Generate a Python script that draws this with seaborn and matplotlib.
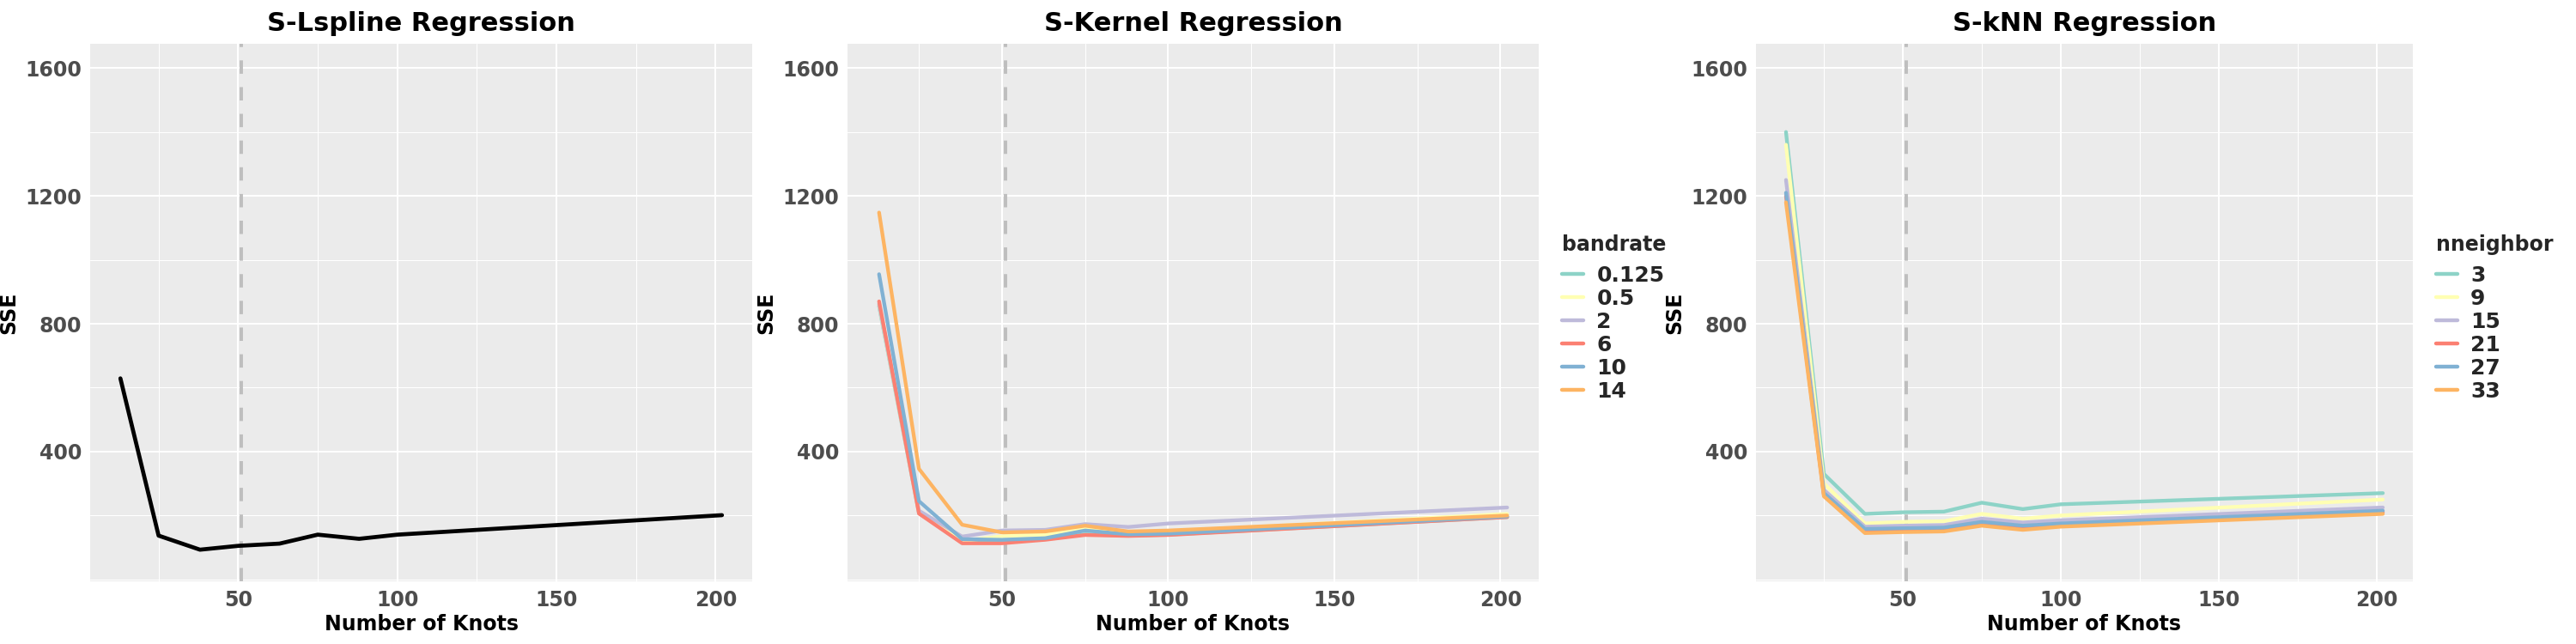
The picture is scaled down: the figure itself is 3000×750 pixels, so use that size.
import pandas as pd
import matplotlib
matplotlib.use('Agg')
import matplotlib.pyplot as plt
from matplotlib.ticker import MultipleLocator
import seaborn as sns

# knots used on the x axis
knots = [13, 25, 38, 50, 63, 75, 88, 100, 202]

# S-Lspline
lspline_sse = [629, 137, 93, 105, 112, 140, 127, 140, 201]

# S-Kernel, one series per bandrate
bandrate_levels = ['0.125', '0.5', '2', '6', '10', '14']
kern_0125 = [855, 208, 115, 116, 126, 141, 137, 140, 195]
kern_05 = [860, 212, 120, 135, 140, 160, 148, 150, 205]
kern_2 = [862, 215, 134, 153, 155, 173, 164, 175, 225]
kern_6 = [870, 206, 113, 113, 124, 139, 136, 139, 195]
kern_10 = [955, 245, 126, 124, 129, 153, 141, 143, 197]
kern_14 = [1148, 346, 171, 147, 150, 168, 150, 153, 200]

# S-kNN, one series per nneighbor
nneighbor_levels = ['3', '9', '15', '21', '27', '33']
knn_3 = [1400, 330, 205, 210, 212, 240, 220, 235, 270]
knn_9 = [1360, 300, 175, 180, 182, 205, 190, 200, 250]
knn_15 = [1250, 280, 165, 168, 170, 190, 178, 185, 225]
knn_21 = [1200, 265, 150, 152, 155, 175, 160, 170, 210]
knn_27 = [1210, 270, 158, 160, 162, 180, 168, 175, 215]
knn_33 = [1180, 260, 145, 148, 150, 168, 155, 165, 205]

set3 = ['#8DD3C7', '#FFFFB3', '#BEBADA', '#FB8072', '#80B1D3', '#FDB462']

sns.set_theme(style='darkgrid')
plt.rcParams['font.family'] = ['DejaVu Sans']
plt.rcParams['font.weight'] = 'bold'


def long_table(levels, series, name):
    rows = []
    for lev, vals in zip(levels, series):
        for k, v in zip(knots, vals):
            rows.append({'knots': k, 'sse': v, name: lev})
    return pd.DataFrame(rows)


kernel_df = long_table(bandrate_levels,
                       [kern_0125, kern_05, kern_2, kern_6, kern_10, kern_14], 'bandrate')
knn_df = long_table(nneighbor_levels,
                    [knn_3, knn_9, knn_15, knn_21, knn_27, knn_33], 'nneighbor')
lspline_df = pd.DataFrame({'knots': knots, 'sse': lspline_sse})

W, H = 3000, 750
fig = plt.figure(figsize=(30, 7.5), dpi=100)


def make_ax(x0, x1, y0=51, y1=677):
    return fig.add_axes([x0 / W, 1 - y1 / H, (x1 - x0) / W, (y1 - y0) / H])


def style_ax(ax, title):
    ax.set_facecolor('#EBEBEB')
    ax.set_xlim(3.5, 211.5)
    ax.set_ylim(-6, 1676)
    ax.xaxis.set_minor_locator(MultipleLocator(25))
    ax.yaxis.set_minor_locator(MultipleLocator(200))
    ax.set_yticks([400, 800, 1200, 1600])
    ax.set_xticks([50, 100, 150, 200])
    ax.grid(which='major', color='white', linewidth=1.5)
    ax.grid(which='minor', color='white', linewidth=0.75)
    ax.set_axisbelow(True)
    for s in ax.spines.values():
        s.set_visible(False)
    ax.tick_params(which='major', length=4, width=1.2, color='#333333',
                   labelsize=17, labelcolor='#4D4D4D', pad=3)
    ax.tick_params(which='minor', length=0)
    for lab in ax.get_xticklabels() + ax.get_yticklabels():
        lab.set_fontweight('bold')
    ax.set_xlabel('Number of Knots', fontsize=17, fontweight='bold', color='black', labelpad=3)
    ax.set_ylabel('SSE', fontsize=17, fontweight='bold', color='black', labelpad=5)
    ax.set_title(title, fontsize=22, fontweight='bold', color='black', pad=11)
    ax.axvline(51, color='#BEBEBE', linewidth=2.8, dashes=(4, 4), zorder=1)


def style_legend(ax, title):
    leg = ax.legend(title=title, loc='center left', bbox_to_anchor=(1.006, 0.49),
                    frameon=False, fontsize=18, title_fontsize=17,
                    handlelength=1.0, handletextpad=0.6, labelspacing=0.12,
                    alignment='left')
    leg._legend_box.sep = 9
    leg.get_title().set_fontweight('bold')
    for t in leg.get_texts():
        t.set_fontweight('bold')
    for line in leg.get_lines():
        line.set_linewidth(3.2)


ax1 = make_ax(105, 876)
sns.lineplot(data=lspline_df, x='knots', y='sse', color='black', linewidth=3.4, ax=ax1)
style_ax(ax1, 'S-Lspline Regression')

ax2 = make_ax(987, 1792)
sns.lineplot(data=kernel_df, x='knots', y='sse', hue='bandrate', hue_order=bandrate_levels,
             palette=set3, linewidth=3.1, ax=ax2)
style_ax(ax2, 'S-Kernel Regression')
style_legend(ax2, 'bandrate')

ax3 = make_ax(2045, 2810)
sns.lineplot(data=knn_df, x='knots', y='sse', hue='nneighbor', hue_order=nneighbor_levels,
             palette=set3, linewidth=3.1, ax=ax3)
style_ax(ax3, 'S-kNN Regression')
style_legend(ax3, 'nneighbor')

fig.savefig('out.png', dpi=100, facecolor='white')
